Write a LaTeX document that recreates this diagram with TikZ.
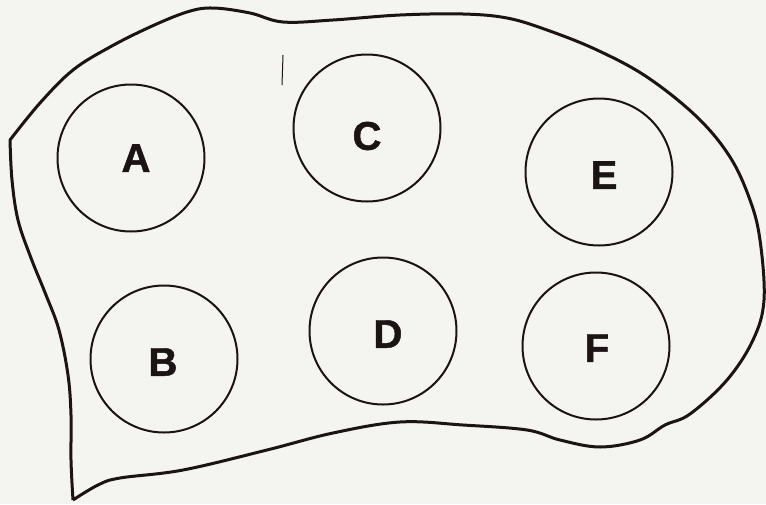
\documentclass[tikz,border=0pt]{standalone}
\usepackage{fontspec}
\setmainfont{Liberation Sans}
\newfontfamily\labfont{Liberation Sans Bold}[FakeBold=1.2]
\definecolor{paper}{RGB}{244,244,240}
\definecolor{ink}{RGB}{28,20,20}
\begin{document}
\begin{tikzpicture}[x=1pt,y=-1pt,
  disc/.style={circle,draw=ink,line width=2pt,minimum size=147pt,inner sep=0pt},
  lab/.style={inner sep=0pt,font=\fontsize{40}{40}\labfont,text=ink},
  outline/.style={draw=ink,line width=3pt,line join=round},
  tick/.style={draw=ink,line width=1pt}]
\fill[paper] (0,0) rectangle (766,504);
\useasboundingbox (0,0) rectangle (766,504);
\draw[outline] plot[smooth,tension=0.6] coordinates {(73,500) (71,460) (71,415) (68,375) (59,330) (46,295) (31,258) (18,220) (12,180) (10,140)}
  -- plot[smooth,tension=0.6] coordinates {(10,140) (40,103) (73,70) (110,47) (150,27) (187,12) (213,8) (250,13) (283,22) (333,20) (400,15) (463,14) (507,18) (547,30) (597,50) (647,77) (697,117) (730,157) (750,200) (760,240) (764,300) (753,340) (727,380) (690,414) (665,425) (640,440) (600,447) (560,440) (527,430) (463,425) (400,422) (333,433) (267,450) (183,470) (120,478) (98,485) (73,500)};
\node[disc] (A) at (131,158) {};
\node[disc] (C) at (367,128) {};
\node[disc] (E) at (599,172) {};
\node[disc] (B) at (164,359) {};
\node[disc] (D) at (383,331) {};
\node[disc] (F) at (596,346) {};
\node[lab] (la) at (136,158) {A};
\node[lab] (lc) at (367,136) {C};
\node[lab] (le) at (604,175) {E};
\node[lab] (lb) at (163,362) {B};
\node[lab] (ld) at (388,334) {D};
\node[lab] (lf) at (597,348) {F};
\coordinate (t1) at (283,55);
\coordinate (t2) at (282,85);
\draw[tick] (t1) -- (t2);
\end{tikzpicture}
\end{document}
